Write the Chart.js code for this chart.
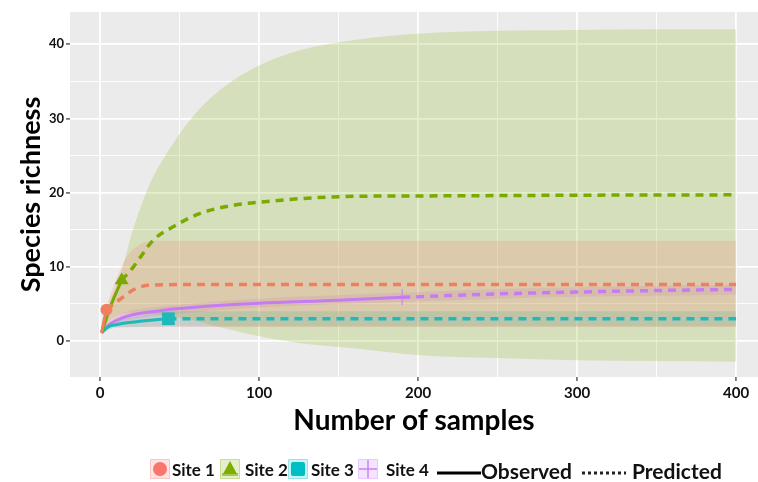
<!DOCTYPE html>
<html>
<head>
<meta charset="utf-8">
<script src="https://cdn.jsdelivr.net/npm/chart.js@4.4.1/dist/chart.umd.min.js"></script>
<style>
  html, body { margin: 0; padding: 0; background: #fff; }
  #wrap { position: relative; width: 758px; height: 482px; font-family: Lato, sans-serif; }
  #legend .lab { position: absolute; font-weight: bold; color: #111; white-space: nowrap; }
  #legend svg { position: absolute; }
</style>
</head>
<body>
<div id="wrap">
  <canvas id="myChart" width="758" height="482"></canvas>
  <div id="legend"></div>
</div>
<script>
// values
const siteNames = ['Site 1', 'Site 2', 'Site 3', 'Site 4'];
const lineNames = ['Observed', 'Predicted'];

// Site 1
const site1ObsX = [1, 2.5, 4];
const site1ObsY = [1.1, 2.8, 4.2];
const site1PredX = [4, 10, 15, 21, 30, 50, 100, 200, 300, 400];
const site1PredY = [4.2, 5.2, 6.0, 6.9, 7.5, 7.6, 7.6, 7.6, 7.6, 7.6];
const site1BandX = [1, 4, 8.4, 13, 18, 25, 30, 40, 100, 200, 300, 400];
const site1Hi = [1.1, 4.5, 7.3, 9.8, 11.7, 13.0, 13.4, 13.5, 13.5, 13.5, 13.5, 13.5];
const site1Lo = [1.1, 2.3, 2.0, 1.9, 1.9, 1.9, 1.9, 1.9, 1.9, 1.9, 1.9, 1.9];

// Site 2
const site2ObsX = [1, 7, 13.6];
const site2ObsY = [1.1, 4.9, 8.2];
const site2PredX = [13.6, 21, 33.5, 46, 63, 84, 105, 134, 161, 200, 250, 300, 400];
const site2PredY = [8.2, 10.0, 13.6, 15.4, 17.2, 18.3, 18.8, 19.3, 19.5, 19.55, 19.6, 19.65, 19.7];
const site2BandX = [1, 5, 12.6, 20, 31.4, 42, 56.6, 73, 98.6, 125.8, 161, 200, 250, 300, 350, 400];
const site2Hi = [1.1, 4.5, 8.7, 14.5, 21.2, 25.3, 29.8, 33.4, 37.0, 39.2, 40.6, 41.4, 41.8, 41.9, 42, 42];
const site2Lo = [1.1, 2.5, 3.6, 3.8, 3.7, 3.4, 2.9, 2.0, 0.7, -0.3, -1.0, -1.9, -2.3, -2.6, -2.7, -2.8];

// Site 3
const site3ObsX = [1, 5, 10, 18, 25, 35, 43];
const site3ObsY = [1.1, 1.9, 2.2, 2.5, 2.65, 2.85, 3.0];
const site3PredX = [43, 100, 200, 300, 400];
const site3PredY = [3.0, 3.0, 3.0, 3.0, 3.0];
const site3BandX = [1, 10, 25, 43, 100, 400];
const site3Hi = [1.1, 2.7, 3.4, 4.0, 4.0, 4.0];
const site3Lo = [1.1, 1.8, 1.9, 2.0, 2.0, 2.0];

// Site 4
const site4ObsX = [1, 5, 10.5, 18, 25, 35, 46, 67, 100, 150, 190];
const site4ObsY = [1.1, 2.1, 2.8, 3.4, 3.7, 4.0, 4.3, 4.7, 5.1, 5.5, 5.9];
const site4PredX = [190, 250, 300, 350, 400];
const site4PredY = [5.9, 6.35, 6.6, 6.8, 6.95];
const site4BandX = [1, 10, 25, 50, 100, 190, 250, 300, 400];
const site4Hi = [1.2, 3.3, 4.3, 4.9, 5.7, 6.5, 7.0, 7.25, 7.6];
const site4Lo = [1.0, 2.3, 3.1, 3.7, 4.5, 5.3, 5.7, 5.95, 6.25];

const xTicks = [0, 100, 200, 300, 400];
const yTicks = [0, 10, 20, 30, 40];

const siteColors = ['#F8766D', '#7CAE00', '#00BFC4', '#C77CFF'];
const lineColors = ['#EE8060', '#7AAA00', '#1DB9BB', '#C47CF0'];
const bandColors = ['rgba(248,118,109,0.2)', 'rgba(124,174,0,0.2)', 'rgba(0,191,196,0.2)', 'rgba(199,124,255,0.2)'];
const markerStyles = ['circle', 'triangle', 'rect', 'cross'];
const markerRadius = [6, 8, 9, 8];

function pts(xs, ys) {
    return xs.map((x, i) => ({ x: x, y: ys[i] }));
}

const sites = [
    { obsX: site1ObsX, obsY: site1ObsY, predX: site1PredX, predY: site1PredY, bandX: site1BandX, hi: site1Hi, lo: site1Lo },
    { obsX: site2ObsX, obsY: site2ObsY, predX: site2PredX, predY: site2PredY, bandX: site2BandX, hi: site2Hi, lo: site2Lo },
    { obsX: site3ObsX, obsY: site3ObsY, predX: site3PredX, predY: site3PredY, bandX: site3BandX, hi: site3Hi, lo: site3Lo },
    { obsX: site4ObsX, obsY: site4ObsY, predX: site4PredX, predY: site4PredY, bandX: site4BandX, hi: site4Hi, lo: site4Lo },
];

const datasets = [];

// ribbons first (hi fills down to lo, which is the next dataset)
sites.forEach((s, i) => {
    datasets.push({
        label: siteNames[i] + ' upper',
        data: pts(s.bandX, s.hi),
        borderWidth: 0,
        pointRadius: 0,
        backgroundColor: bandColors[i],
        fill: { target: datasets.length + 1 },
        cubicInterpolationMode: 'monotone',
        order: 3
    });
    datasets.push({
        label: siteNames[i] + ' lower',
        data: pts(s.bandX, s.lo),
        borderWidth: 0,
        pointRadius: 0,
        fill: false,
        cubicInterpolationMode: 'monotone',
        order: 3
    });
});

// observed and predicted lines
sites.forEach((s, i) => {
    datasets.push({
        label: siteNames[i] + ' observed',
        data: pts(s.obsX, s.obsY),
        borderColor: lineColors[i],
        borderWidth: 3,
        pointRadius: 0,
        fill: false,
        cubicInterpolationMode: 'monotone',
        order: 2
    });
    datasets.push({
        label: siteNames[i] + ' predicted',
        data: pts(s.predX, s.predY),
        borderColor: lineColors[i],
        borderWidth: 3.5,
        borderDash: [8, 6],
        pointRadius: 0,
        fill: false,
        cubicInterpolationMode: 'monotone',
        order: 2
    });
});

// end-of-observed markers
sites.forEach((s, i) => {
    datasets.push({
        label: siteNames[i],
        data: [{ x: s.obsX[s.obsX.length - 1], y: s.obsY[s.obsY.length - 1] }],
        showLine: false,
        pointStyle: markerStyles[i],
        pointRadius: markerRadius[i],
        pointBackgroundColor: lineColors[i],
        pointBorderColor: lineColors[i],
        pointBorderWidth: i === 3 ? 1 : 0,
        order: 1
    });
});

const panelBg = {
    id: 'panelBg',
    beforeDraw(chart) {
        const { ctx, chartArea: a } = chart;
        ctx.save();
        ctx.fillStyle = '#EBEBEB';
        ctx.fillRect(a.left, a.top, a.right - a.left, a.bottom - a.top);
        ctx.restore();
    }
};

const boldFont = (size) => ({ family: 'Lato', weight: 'bold', size: size });

// keep the plot panel where the reference has it
function noPad(s) {
    s.paddingLeft = 0;
    s.paddingRight = 0;
    s.paddingTop = 0;
    s.paddingBottom = 0;
}

function buildChart() {
    new Chart(document.getElementById('myChart'), {
        type: 'line',
        data: { datasets: datasets },
        plugins: [panelBg],
        options: {
            responsive: false,
            animation: false,
            layout: { autoPadding: false, padding: { top: 12, right: 0, left: 0, bottom: 0 } },
            plugins: { legend: { display: false }, tooltip: { enabled: false } },
            scales: {
                x: {
                    type: 'linear',
                    min: -18.9,
                    max: 413.8,
                    border: { display: false },
                    grid: {
                        color: '#fff',
                        lineWidth: c => xTicks.includes(c.tick.value) ? 1.8 : 0.9,
                        tickColor: c => xTicks.includes(c.tick.value) ? '#777' : 'rgba(0,0,0,0)',
                        tickLength: 4
                    },
                    ticks: {
                        stepSize: 50,
                        includeBounds: false,
                        autoSkip: false,
                        maxRotation: 0,
                        padding: 3,
                        color: '#111',
                        font: boldFont(15),
                        callback: v => xTicks.includes(v) ? String(v) : ''
                    },
                    title: {
                        display: true,
                        text: 'Number of samples',
                        color: '#000',
                        font: boldFont(28),
                        padding: { top: 0, bottom: 44 }
                    },
                    afterFit: s => { s.height = 105; noPad(s); }
                },
                y: {
                    min: -4.85,
                    max: 44.34,
                    border: { display: false },
                    grid: {
                        color: '#fff',
                        lineWidth: c => yTicks.includes(c.tick.value) ? 1.8 : 0.9,
                        tickColor: c => yTicks.includes(c.tick.value) ? '#777' : 'rgba(0,0,0,0)',
                        tickLength: 4
                    },
                    ticks: {
                        stepSize: 5,
                        includeBounds: false,
                        autoSkip: false,
                        padding: 2,
                        color: '#111',
                        font: boldFont(13),
                        callback: v => yTicks.includes(v) ? String(v) : ''
                    },
                    title: {
                        display: true,
                        text: 'Species richness',
                        color: '#000',
                        font: boldFont(27),
                        padding: { top: 15, bottom: 0 }
                    },
                    afterFit: s => { s.width = 70; noPad(s); }
                }
            }
        }
    });
}

// legend drawn as html under the plot
function keySvg(i) {
    const c = siteColors[i];
    let mark = '';
    if (i === 0) mark = `<circle cx="10" cy="10" r="7" fill="${c}"/>`;
    if (i === 1) mark = `<polygon points="10,2 17,15 3,15" fill="${c}"/><rect x="2" y="14" width="16" height="3" fill="${c}" opacity="0.6"/>`;
    if (i === 2) mark = `<rect x="3" y="3" width="14" height="14" rx="2" fill="${c}"/>`;
    if (i === 3) mark = `<line x1="10" y1="1" x2="10" y2="19" stroke="${c}" stroke-width="2" opacity="0.7"/><line x1="1" y1="10" x2="19" y2="10" stroke="${c}" stroke-width="2" opacity="0.7"/>`;
    return `<rect x="0.5" y="0.5" width="19" height="19" fill="${bandColors[i]}" stroke="${c}" stroke-opacity="0.35"/>` + mark;
}

function buildLegend() {
    const keyLeft = [150, 220, 288, 358];
    const textLeft = [172, 245, 311, 386];
    let html = '';
    siteNames.forEach((name, i) => {
        html += `<svg width="20" height="20" style="left:${keyLeft[i]}px;top:459px">${keySvg(i)}</svg>`;
        html += `<div class="lab" style="left:${textLeft[i]}px;top:459px;font-size:17px;line-height:22px">${name}</div>`;
    });
    html += `<svg width="44" height="8" style="left:437px;top:469px"><line x1="0" y1="4" x2="44" y2="4" stroke="#000" stroke-width="3"/></svg>`;
    html += `<div class="lab" style="left:481px;top:458px;font-size:21px;line-height:26px">${lineNames[0]}</div>`;
    html += `<svg width="44" height="8" style="left:582px;top:469px"><line x1="0" y1="4" x2="44" y2="4" stroke="#222" stroke-width="3" stroke-dasharray="3 3"/></svg>`;
    html += `<div class="lab" style="left:632px;top:458px;font-size:21px;line-height:26px">${lineNames[1]}</div>`;
    document.getElementById('legend').innerHTML = html;
}

buildLegend();
document.fonts.load('bold 16px Lato').then(buildChart, buildChart);
</script>
</body>
</html>
